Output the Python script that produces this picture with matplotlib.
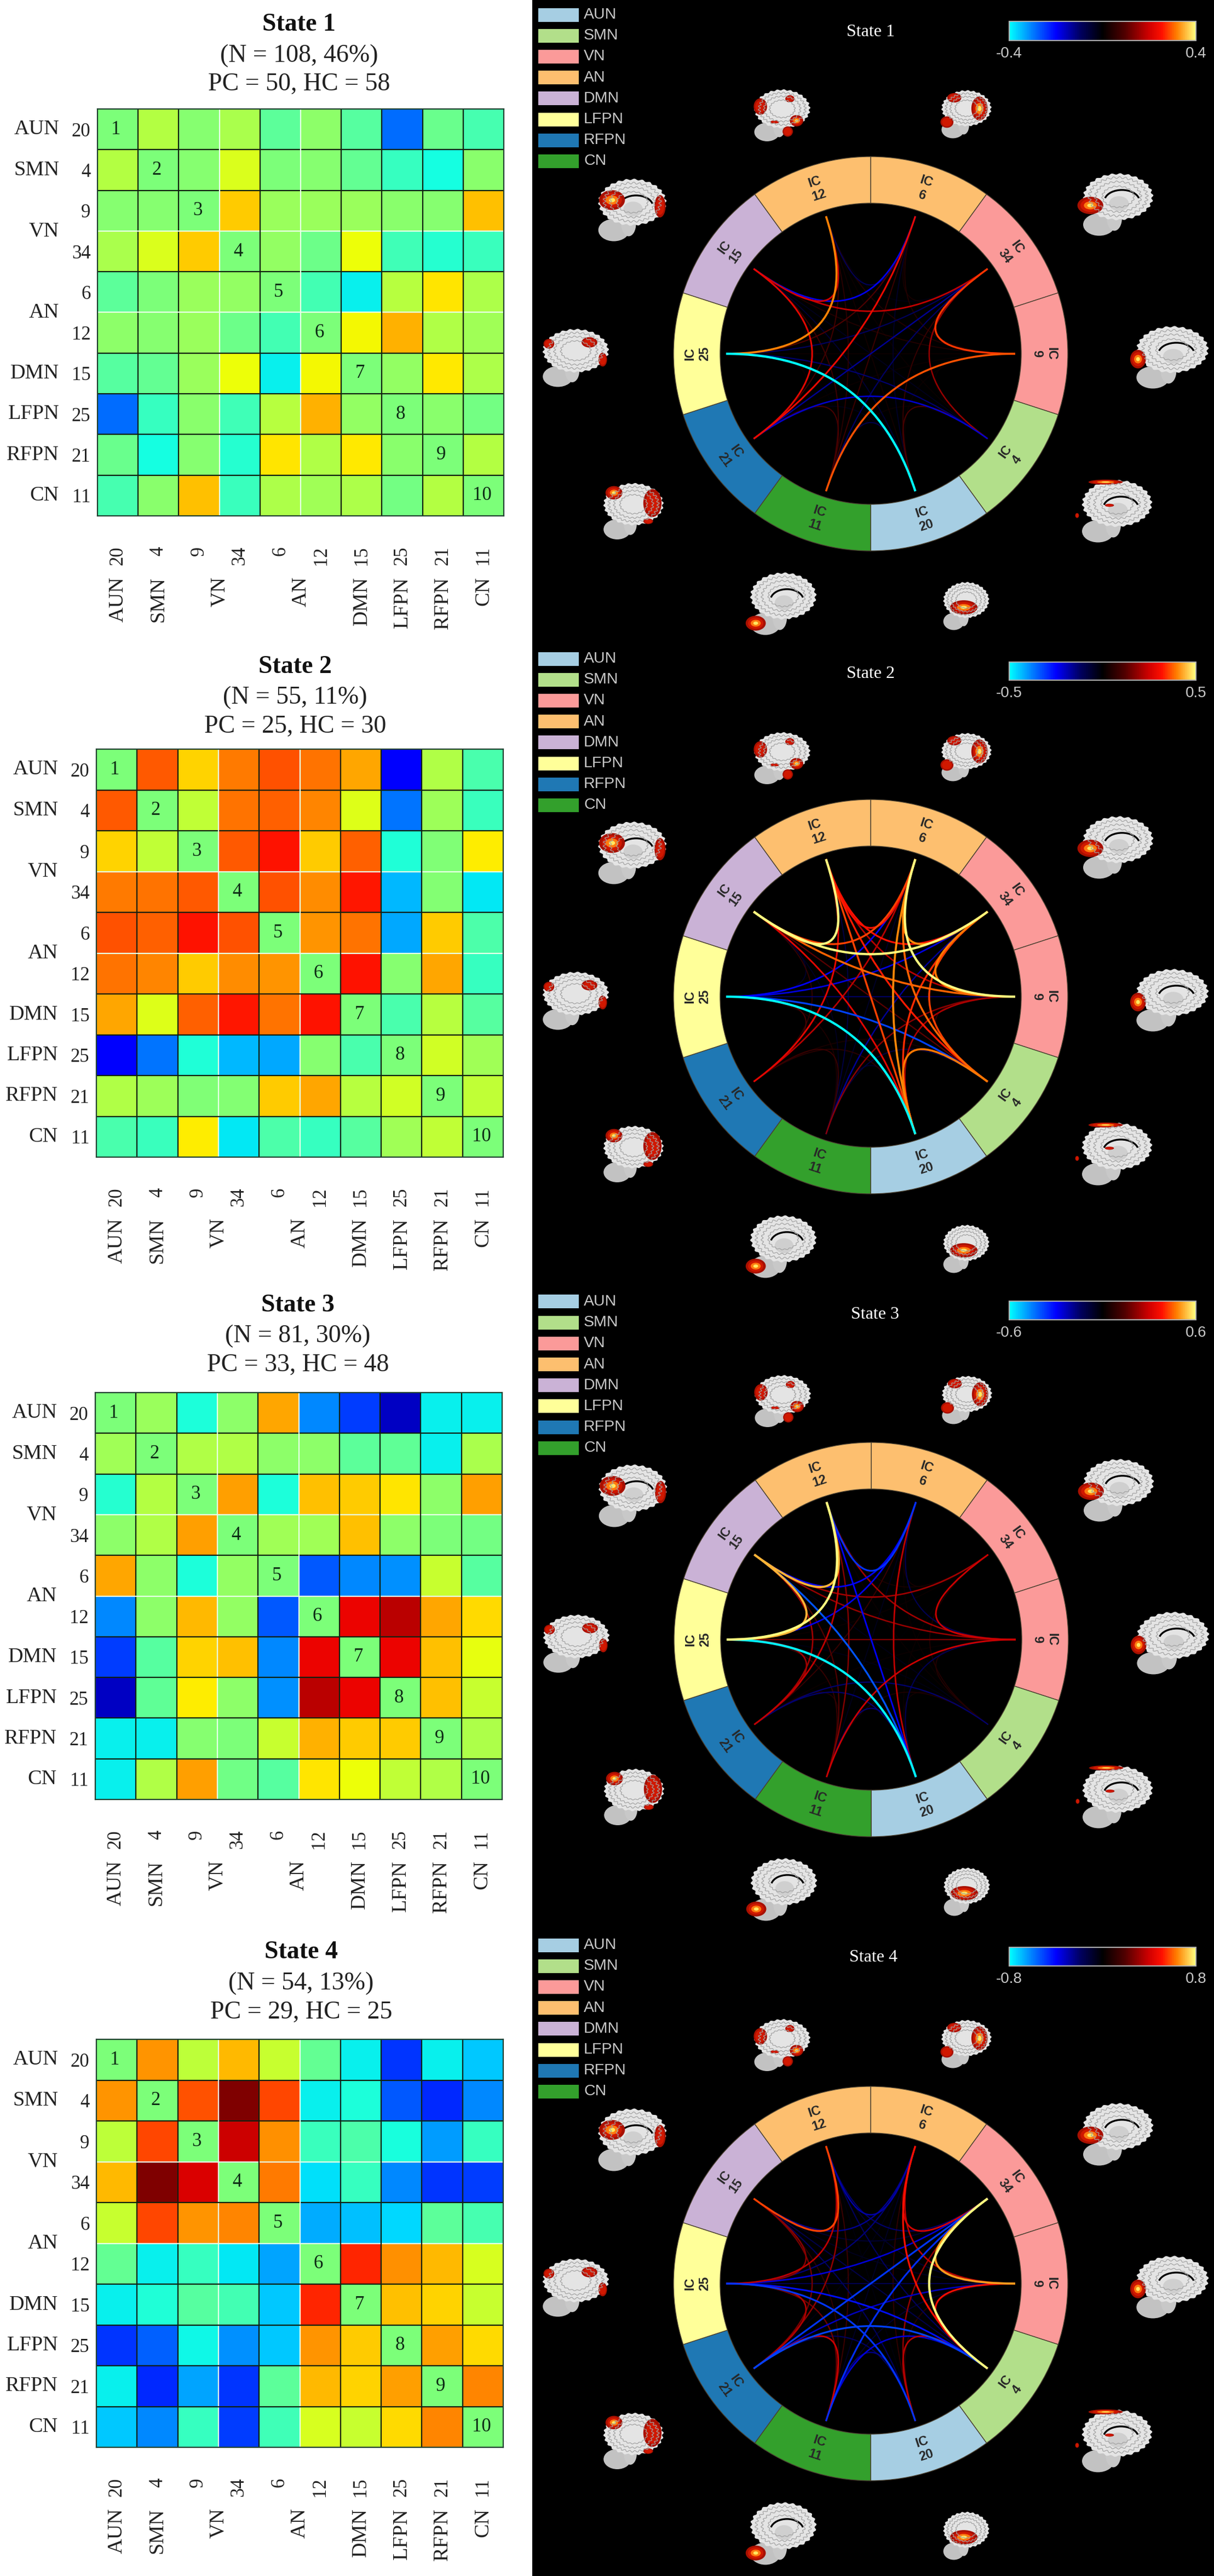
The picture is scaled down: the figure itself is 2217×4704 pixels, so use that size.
import numpy as np
import matplotlib
matplotlib.use("Agg")
import matplotlib.pyplot as plt
from matplotlib.cm import ScalarMappable
from matplotlib.colors import LinearSegmentedColormap, Normalize
from matplotlib.patches import Arc, Ellipse, PathPatch, Polygon, Rectangle, Wedge
from matplotlib.path import Path

W, H = 2217, 4704

IC_LABELS = ["20", "4", "9", "34", "6", "12", "15", "25", "21", "11"]
NETWORKS = ["AUN", "SMN", "VN", "AN", "DMN", "LFPN", "RFPN", "CN"]
NETWORK_POS = [0, 1, 2.5, 4.5, 6, 7, 8, 9]
NETWORK_COLORS = ["#a6cee3", "#b2df8a", "#fb9a99", "#fdbf6f", "#cab2d6", "#ffff99", "#1f78b4", "#33a02c"]
RING_ICS = ["6", "34", "9", "4", "20", "11", "21", "25", "15", "12"]
RING_NETWORK = [3, 2, 2, 1, 0, 7, 6, 5, 4, 3]

TITLES = ["State 1", "State 2", "State 3", "State 4"]
COUNTS = ["(N = 108, 46%)", "(N = 55, 11%)", "(N = 81, 30%)", "(N = 54, 13%)"]
GROUPS = ["PC = 50, HC = 58", "PC = 25, HC = 30", "PC = 33, HC = 48", "PC = 29, HC = 25"]
BAR_LIMITS = [0.4, 0.5, 0.6, 0.8]
CHORD_SCALE = [0.58, 0.84, 0.97, 1.08]
MATRIX_LIMIT = 1.08

STATE1 = [
    [0, .15, .03, .12, -.08, .05, -.10, -.58, -.05, -.14],
    [.15, 0, .03, .25, 0, .03, -.06, -.18, -.27, .04],
    [.03, .03, 0, .42, .08, .08, .08, .04, .03, .44],
    [.12, .25, .42, 0, .06, -.04, .30, -.16, -.22, -.17],
    [-.08, 0, .08, .06, 0, -.15, -.30, .16, .36, .13],
    [.05, .03, .08, -.04, -.15, 0, .32, .48, .14, .10],
    [-.10, -.06, .08, .30, -.30, .32, 0, .06, .35, .13],
    [-.58, -.18, .04, -.16, .16, .48, .06, 0, .04, -.02],
    [-.05, -.27, .03, -.22, .36, .14, .35, .04, 0, .15],
    [-.14, .04, .44, -.17, .13, .10, .13, -.02, .15, 0],
]
STATE2 = [
    [0, .68, .40, .60, .70, .62, .50, -.84, .14, -.13],
    [.68, 0, .18, .62, .66, .58, .26, -.56, .09, -.17],
    [.40, .18, 0, .68, .84, .42, .66, -.24, .01, .34],
    [.60, .62, .68, 0, .70, .56, .83, -.42, .02, -.32],
    [.70, .66, .84, .70, 0, .54, .62, -.45, .42, -.12],
    [.62, .58, .42, .56, .54, 0, .84, .03, .50, -.18],
    [.50, .26, .66, .83, .62, .84, 0, -.13, .16, -.10],
    [-.84, -.56, -.24, -.42, -.45, .03, -.13, 0, .22, .10],
    [.14, .09, .01, .02, .42, .50, .16, .22, 0, .18],
    [-.13, -.17, .34, -.32, -.12, -.18, -.10, .10, .18, 0],
]
STATE3 = [
    [0, .08, -.25, .05, .50, -.52, -.68, -.95, -.30, -.30],
    [.10, 0, .14, .14, .05, .05, -.08, -.07, -.30, .12],
    [-.22, .15, 0, .52, -.25, .44, .42, .36, .05, .52],
    [.05, .14, .52, 0, .10, .10, .44, .05, 0, -.02],
    [.50, .05, -.25, .06, 0, -.62, -.52, -.50, .20, -.10],
    [-.52, .05, .46, .06, -.62, 0, .87, .97, .50, .38],
    [-.68, -.10, .40, .44, -.52, .87, 0, .87, .44, .28],
    [-.95, -.07, .34, .05, -.50, .97, .87, 0, .44, .20],
    [-.30, -.30, .03, 0, .20, .48, .42, .42, 0, .13],
    [-.30, .14, .52, -.03, -.10, .36, .30, .18, .14, 0],
]
STATE4 = [
    [0, .54, .17, .46, .20, -.06, -.30, -.70, -.30, -.38],
    [.54, 0, .70, 1.08, .72, -.30, -.25, -.62, -.72, -.52],
    [.17, .72, 0, .93, .55, -.17, -.12, -.26, -.48, -.18],
    [.46, 1.08, .91, 0, .60, -.33, -.18, -.52, -.70, -.68],
    [.20, .72, .54, .58, 0, -.44, -.40, -.35, -.08, -.14],
    [-.06, -.30, -.18, -.32, -.46, 0, .80, .55, .46, .24],
    [-.30, -.24, -.10, -.15, -.38, .80, 0, .44, .40, .20],
    [-.70, -.60, -.28, -.50, -.38, .54, .42, 0, .52, .38],
    [-.30, -.72, -.46, -.70, -.08, .46, .40, .52, 0, .58],
    [-.38, -.52, -.18, -.68, -.16, .24, .20, .38, .58, 0],
]
MATRICES = [STATE1, STATE2, STATE3, STATE4]

# layout, in pixels of the final picture
MATRIX_BOX = [(178, 199, 920, 942), (176, 1368, 919, 2113), (174, 2543, 917, 3286), (176, 3724, 919, 4469)]
TITLE_X = [546, 539, 544, 550]
TITLE_Y = [(45, 102, 154), (1218, 1274, 1327), (2384, 2440, 2493), (3565, 3622, 3675)]
PANEL_Y = [(0, 1175), (1175, 2345), (2345, 3515), (3515, 4704)]
RING_CENTER = [(1590, 646), (1590, 1820), (1591, 2994), (1590, 4170)]
RIGHT_TITLE = [(1590, 58), (1590, 1231), (1598, 2401), (1595, 3575)]
BAR_Y = [(39, 74), (1209, 1242), (2376, 2410), (3556, 3590)]
LEGEND_Y = [27, 1203, 2377, 3552]
PANEL_X = 972

# brain thumbnails: centre offset from the ring, width, height, medial cut or not
BRAINS = [
    (-167, 435, 111, 94, False), (170, 437, 99, 87, False), (445, 272, 139, 113, True), (544, -7, 143, 113, True),
    (443, -288, 139, 113, True), (170, -461, 91, 87, False), (-166, -457, 131, 113, True), (-439, -288, 119, 102, False),
    (-545, -8, 131, 105, False), (-442, 262, 135, 113, True),
]
# activation blobs of each thumbnail: x, y, half width, half height, hot core
BLOBS = [
    [(-.62, .35, .22, .32, 0), (.57, -.20, .22, .22, 1), (.35, .65, .15, .14, 0), (.28, -.62, .17, .20, 0), (-.15, -.25, .15, .06, 0)],
    [(-.35, .70, .26, .20, 0), (.58, .25, .30, .50, 1), (-.62, -.32, .24, .24, 0)],
    [(-.63, -.02, .34, .28, 1)],
    [(-.78, -.05, .20, .30, 1)],
    [(-.20, .95, .45, .08, 1), (-.95, -.13, .05, .08, 0), (-.10, .20, .12, .05, 0)],
    [(0, -.05, .55, .30, 1)],
    [(-.67, -.62, .28, .24, 1)],
    [(-.50, .67, .26, .24, 1), (.68, .30, .28, .50, 0), (.55, -.35, .15, .10, 0)],
    [(-.65, .50, .15, .17, 0), (.48, .55, .22, .18, 0), (.85, -.05, .12, .24, 0)],
    [(-.45, .33, .35, .32, 1), (.85, .13, .15, .36, 0)],
]

RING_OUT, RING_IN, RING_TEXT, CHORD_R = 360, 275, 317, 264

plt.rcParams["font.family"] = ["Liberation Serif", "DejaVu Serif"]
SANS = ["Liberation Sans", "DejaVu Sans"]
hot_cold = LinearSegmentedColormap.from_list("hot_cold", [
    (0, "#00ffff"), (.12, "#0080ff"), (.25, "#0000ff"), (.38, "#000060"), (.5, "#000000"),
    (.62, "#500000"), (.75, "#d00000"), (.82, "#ff1000"), (.9, "#ff8000"), (1, "#ffff80")])


def px_axes(fig, x0, y0, x1, y1):
    return fig.add_axes([x0 / W, 1 - y1 / H, (x1 - x0) / W, (y1 - y0) / H])


def draw_matrix(fig, idx):
    x0, y0, x1, y1 = MATRIX_BOX[idx]
    ax = px_axes(fig, x0, y0, x1, y1)
    ax.imshow(np.array(MATRICES[idx]), cmap="jet", vmin=-MATRIX_LIMIT, vmax=MATRIX_LIMIT, aspect="auto", interpolation="nearest")
    for k in range(1, 10):
        c = "#e8ffe8" if k in (3, 5) else "#102010"
        ax.axhline(k - .5, color=c, lw=1.6)
        ax.axvline(k - .5, color=c, lw=1.6)
    for s in ax.spines.values():
        s.set_color("#204030")
        s.set_linewidth(1.6)
    ax.set_xticks(range(10), IC_LABELS, rotation=90, fontsize=25, color="#222222", va="top")
    ax.set_yticks(range(10), IC_LABELS, fontsize=25, color="#222222")
    ax.tick_params(axis="x", length=0, pad=40)
    ax.tick_params(axis="y", length=0, pad=9)
    for k in range(10):
        ax.text(k - .04, k, str(k + 1), ha="center", va="center", fontsize=25, color="#0c2a14")
    for name, pos in zip(NETWORKS, NETWORK_POS):
        ax.annotate(name, xy=(pos, 0), xycoords=("data", "axes fraction"), xytext=(0, -111 * .72),
                    textcoords="offset points", rotation=90, ha="center", va="top", fontsize=27.5, color="#222222")
        ax.annotate(name, xy=(0, pos), xycoords=("axes fraction", "data"), xytext=(-70 * .72, 0),
                    textcoords="offset points", ha="right", va="center", fontsize=27.5, color="#222222")
    cx = TITLE_X[idx]
    yt = TITLE_Y[idx]
    fig.text(cx / W, 1 - yt[0] / H, TITLES[idx], ha="center", va="center", fontsize=33, fontweight="bold", color="#111111")
    fig.text(cx / W, 1 - yt[1] / H, COUNTS[idx], ha="center", va="center", fontsize=33, color="#222222")
    fig.text(cx / W, 1 - yt[2] / H, GROUPS[idx], ha="center", va="center", fontsize=33, color="#222222")


def draw_brain(ax, cx, cy, bw, bh, blobs, medial):
    t = np.linspace(0, 2 * np.pi, 300)
    ax.add_patch(Ellipse((cx - .2 * bw, cy - .32 * bh), .42 * bw, .36 * bh, color="#c2c2c2", lw=0))
    ax.add_patch(Ellipse((cx + .0 * bw, cy - .22 * bh), .2 * bw, .4 * bh, color="#c8c8c8", lw=0))
    r = 1 + .03 * np.sin(26 * t)
    outline = np.column_stack([cx + .05 * bw + .45 * bw * r * np.cos(t), cy + .13 * bh + .37 * bh * r * np.sin(t)])
    ax.add_patch(Polygon(outline, closed=True, color="#e4e4e4", lw=0))
    # folds of the cortex
    for scale, waves in ((.84, 30), (.66, 24), (.46, 18)):
        wr = scale * (1 + .05 * np.sin(waves * t))
        ax.plot(cx + .05 * bw + .45 * bw * wr * np.cos(t), cy + .13 * bh + .37 * bh * wr * np.sin(t),
                color="#a2a2a2", lw=.9, solid_capstyle="round")
    if medial:
        ax.add_patch(Ellipse((cx + .06 * bw, cy + .02 * bh), .26 * bw, .24 * bh, color="#cfcfcf", lw=0))
        ax.add_patch(Arc((cx + .1 * bw, cy + .06 * bh), .46 * bw, .36 * bh, theta1=10, theta2=170, color="black", lw=2.4))
    for bx, by, hw, hh, core in blobs:
        px, py = cx + bx * bw / 2, cy + by * bh / 2
        ax.add_patch(Ellipse((px, py), hw * bw, hh * bh, color="#a81000", lw=0))
        ax.add_patch(Ellipse((px, py), .76 * hw * bw, .76 * hh * bh, color="#d01800", lw=0))
        if core:
            ax.add_patch(Ellipse((px, py), .5 * hw * bw, .46 * hh * bh, color="#ff7a10", lw=0))
            ax.add_patch(Ellipse((px, py), .24 * hw * bw, .22 * hh * bh, color="#ffe860", lw=0))


def draw_panel(fig, idx):
    cx, cy = RING_CENTER[idx]
    y0, y1 = PANEL_Y[idx]
    ax = px_axes(fig, PANEL_X, y0, W, y1)
    ax.set_facecolor("black")
    ax.set_xlim(PANEL_X - cx, W - cx)
    ax.set_ylim(cy - y1, cy - y0)
    ax.set_xticks([])
    ax.set_yticks([])
    for s in ax.spines.values():
        s.set_visible(False)

    # ring
    angles = (72 - 36 * np.arange(10)) % 360
    for ang, ic, net in zip(angles, RING_ICS, RING_NETWORK):
        ax.add_patch(Wedge((0, 0), RING_OUT, ang - 18, ang + 18, width=RING_OUT - RING_IN,
                           facecolor=NETWORK_COLORS[net], edgecolor="#4a4030", lw=1))
        rad = np.deg2rad(ang)
        rot = ang - 90 if ang <= 180 else ang - 270
        ax.text(RING_TEXT * np.cos(rad), RING_TEXT * np.sin(rad), "IC\n" + ic, rotation=rot,
                rotation_mode="anchor", ha="center", va="center", ma="center", fontsize=17,
                fontweight="bold", family=SANS, color="#282828", linespacing=1.2)

    # chords, weakest first so the strong ones stay on top
    ring_pos = [RING_ICS.index(ic) for ic in IC_LABELS]
    vals = np.array(MATRICES[idx])
    scale = CHORD_SCALE[idx]
    pairs = [(i, j) for i in range(10) for j in range(i + 1, 10)]
    pairs.sort(key=lambda p: abs(vals[p]))
    for i, j in pairs:
        a, b = np.deg2rad(angles[ring_pos[i]]), np.deg2rad(angles[ring_pos[j]])
        p0 = (CHORD_R * np.cos(a), CHORD_R * np.sin(a))
        p1 = (CHORD_R * np.cos(b), CHORD_R * np.sin(b))
        strength = min(abs(vals[i, j]) / scale, 1)
        pos = .5 + .5 * np.sign(vals[i, j]) * strength ** 1.15
        path = Path([p0, (0, 0), p1], [Path.MOVETO, Path.CURVE3, Path.CURVE3])
        ax.add_patch(PathPatch(path, facecolor="none", edgecolor=hot_cold(pos), lw=1.0 + 2.0 * strength))

    for (dx, dy, bw, bh, medial), blobs in zip(BRAINS, BLOBS):
        draw_brain(ax, dx, dy, bw, bh, blobs, medial)

    # state title
    tx, ty = RIGHT_TITLE[idx]
    ax.text(tx - cx, cy - ty, TITLES[idx], ha="center", va="center", fontsize=23, color="white")

    # legend
    for k, (name, col) in enumerate(zip(NETWORKS, NETWORK_COLORS)):
        ly = LEGEND_Y[idx] + 38.2 * k
        ax.add_patch(Rectangle((983 - cx, cy - ly - 12.5), 74, 25, color=col, lw=0))
        ax.text(1066 - cx, cy - ly, name, ha="left", va="center", fontsize=20.5, family=SANS, color="#c8c8c8")

    # colour bar
    by0, by1 = BAR_Y[idx]
    cax = px_axes(fig, 1843, by0, 2184, by1)
    lim = BAR_LIMITS[idx]
    cb = fig.colorbar(ScalarMappable(Normalize(-lim, lim), hot_cold), cax=cax, orientation="horizontal")
    cb.set_ticks([-lim, lim], labels=[f"{-lim:.1f}", f"{lim:.1f}"])
    cb.outline.set_edgecolor("#b0b0b0")
    cb.outline.set_linewidth(1.5)
    cax.tick_params(length=0, pad=8, labelsize=20, labelcolor="#c8c8c8")
    for lab in cax.get_xticklabels():
        lab.set_family(SANS)


fig = plt.figure(figsize=(W / 100, H / 100), dpi=100, facecolor="white")
for n in range(4):
    draw_matrix(fig, n)
    draw_panel(fig, n)
fig.savefig("out.png", dpi=100)
